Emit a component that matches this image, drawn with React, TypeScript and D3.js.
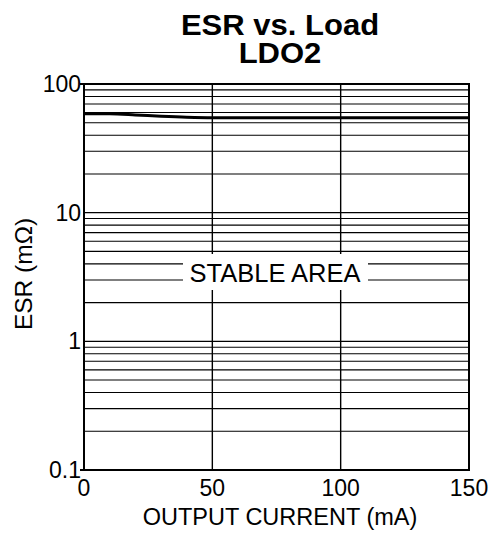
import React from "react";
import * as d3 from "d3";

const currentMA = [0, 10, 20, 30, 40, 50, 100, 150];
const esrMOhm = [58.8, 58.6, 57.5, 56.2, 55.2, 54.7, 54.6, 54.6];
const xTicks = [0, 50, 100, 150];
const yTicks = [0.1, 1, 10, 100];
const yTickLabels = ["0.1", "1", "10", "100"];
const titleLines = ["ESR vs. Load", "LDO2"];
const xLabel = "OUTPUT CURRENT (mA)";
const yLabel = "ESR (mΩ)";
const areaLabel = "STABLE AREA";

const W = 495;
const H = 534;
const L = 84;
const R = 469;
const T = 84;
const B = 470;
const FONT = "'Liberation Sans', Arial, Helvetica, sans-serif";

export default function App() {
  const x = d3.scaleLinear().domain([0, 150]).range([L, R]);
  const y = d3.scaleLog().domain([0.1, 100]).range([B, T]);

  const minor: number[] = [];
  [0.1, 1, 10].forEach((d) => {
    for (let k = 2; k <= 9; k++) minor.push(d * k);
  });

  const line = d3
    .line<number>()
    .x((_, i) => x(currentMA[i]))
    .y((d) => y(d))
    .curve(d3.curveMonotoneX);

  const boxX0 = 183;
  const boxX1 = 368;
  const boxY0 = 254;
  const boxY1 = 290;

  return (
    <svg
      width={W}
      height={H}
      style={{ position: "absolute", left: 0, top: 0, background: "#fff" }}
      fontFamily={FONT}
    >
      <rect x={0} y={0} width={W} height={H} fill="#fff" />
      {/* title */}
      <g transform="translate(280,0) scale(1.07,1)">
        <text x={0} y={35} textAnchor="middle" fontSize={29} fontWeight="bold">
          {titleLines[0]}
        </text>
        <text x={0} y={63} textAnchor="middle" fontSize={29} fontWeight="bold">
          {titleLines[1]}
        </text>
      </g>

      {/* horizontal gridlines */}
      {minor.map((v) => (
        <line
          key={"m" + v}
          x1={L}
          x2={R}
          y1={y(v)}
          y2={y(v)}
          stroke="#000"
          strokeWidth={1.1}
        />
      ))}
      {yTicks.slice(1, 3).map((v) => (
        <line
          key={"M" + v}
          x1={L}
          x2={R}
          y1={y(v)}
          y2={y(v)}
          stroke="#000"
          strokeWidth={1.4}
        />
      ))}
      {/* vertical gridlines */}
      {xTicks.slice(1, 3).map((v) => (
        <line
          key={"v" + v}
          x1={x(v)}
          x2={x(v)}
          y1={T}
          y2={B}
          stroke="#000"
          strokeWidth={1.4}
        />
      ))}

      {/* stable area label */}
      <rect
        x={boxX0}
        y={boxY0}
        width={boxX1 - boxX0}
        height={boxY1 - boxY0}
        fill="#fff"
      />
      <text x={275} y={282} textAnchor="middle" fontSize={25.5}>
        {areaLabel}
      </text>

      {/* curve */}
      <path
        d={line(esrMOhm) || ""}
        fill="none"
        stroke="#000"
        strokeWidth={3}
      />

      {/* frame */}
      <rect
        x={L}
        y={T}
        width={R - L}
        height={B - T}
        fill="none"
        stroke="#000"
        strokeWidth={2}
      />
      <line x1={L - 4} x2={L} y1={T} y2={T} stroke="#000" strokeWidth={2} />
      <line x1={L - 4} x2={L} y1={B} y2={B} stroke="#000" strokeWidth={2} />

      {/* y tick labels */}
      {yTicks.map((v, i) => (
        <text
          key={"yt" + v}
          x={L - 3}
          y={y(v) + 8}
          textAnchor="end"
          fontSize={23}
        >
          {yTickLabels[i]}
        </text>
      ))}
      {/* x tick labels */}
      {xTicks.map((v) => (
        <text
          key={"xt" + v}
          x={x(v)}
          y={496}
          textAnchor="middle"
          fontSize={23}
        >
          {v}
        </text>
      ))}

      <text x={280} y={525} textAnchor="middle" fontSize={23.5}>
        {xLabel}
      </text>
      <text
        transform={`translate(32, ${274}) rotate(-90)`}
        textAnchor="middle"
        fontSize={24.5}
      >
        {yLabel}
      </text>
    </svg>
  );
}
